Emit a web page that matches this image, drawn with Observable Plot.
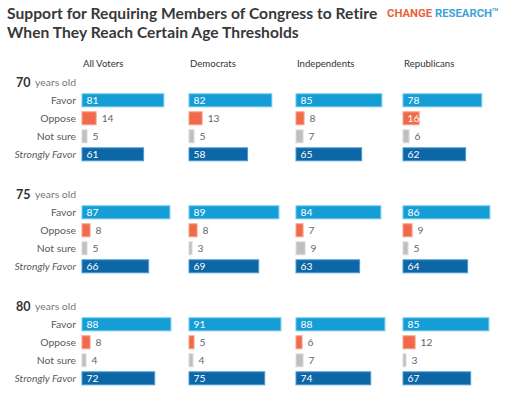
<!DOCTYPE html>
<html>
<head>
<meta charset="utf-8">
<script src="https://cdn.jsdelivr.net/npm/d3@7"></script>
<script src="https://cdn.jsdelivr.net/npm/@observablehq/plot@0.6"></script>
<style>
  body { margin: 0; background: #fff; width: 512px; height: 395px; overflow: hidden; font-family: Lato, "Open Sans", sans-serif; }
  #head { position: relative; height: 48px; }
  #title { position: absolute; left: 7px; top: 4px; font-size: 15.6px; font-weight: 700; color: #383838; line-height: 18.5px; letter-spacing: 0.05px; }
  #logo { position: absolute; left: 387px; top: 7px; font-family: Roboto, sans-serif; font-size: 11.3px; font-weight: 700; white-space: nowrap; }
  #logo .c { color: #e8623e; }
  #logo .r { color: #3da2d8; }
  #logo sup { font-size: 4px; color: #3da2d8; vertical-align: top; }
</style>
</head>
<body>
<div id="head">
  <div id="title">Support for Requiring Members of Congress to Retire<br>When They Reach Certain Age Thresholds</div>
  <div id="logo"><span class="c">CHANGE</span> <span class="r">RESEARCH</span><sup>TM</sup></div>
</div>
<div id="chart"></div>
<script>
const parties = ["All Voters", "Democrats", "Independents", "Republicans"];
const ages = ["70", "75", "80"];
const responses = ["Favor", "Oppose", "Not sure", "Strongly Favor"];

// values per age group, in party order
const favor = [[81, 82, 85, 78], [87, 89, 84, 86], [88, 91, 88, 85]];
const oppose = [[14, 13, 8, 16], [8, 8, 7, 9], [8, 5, 6, 12]];
const notSure = [[5, 5, 7, 6], [5, 3, 9, 5], [4, 4, 7, 3]];
const stronglyFavor = [[61, 58, 65, 62], [66, 69, 63, 64], [72, 75, 74, 67]];

const series = {"Favor": favor, "Oppose": oppose, "Not sure": notSure, "Strongly Favor": stronglyFavor};
const fills = {"Favor": "#159dd6", "Oppose": "#f0694a", "Not sure": "#bfbfbf", "Strongly Favor": "#0d67a6"};
const strokes = {"Favor": "#6ec8ef", "Oppose": "#f7a48e", "Not sure": "#dcdcdc", "Strongly Favor": "#4b9bd3"};

const data = [];
ages.forEach((age, ai) => {
  responses.forEach(resp => {
    parties.forEach((party, pi) => {
      data.push({age, party, resp, value: series[resp][ai][pi]});
    });
  });
});
const inside = d => d.resp === "Favor" || d.resp === "Strongly Favor" || d.value >= 15;

const rowLabels = [];
ages.forEach(age => responses.forEach(resp => rowLabels.push({age, resp})));

const chart = Plot.plot({
  width: 512,
  height: 347,
  marginLeft: 81.5,
  marginRight: 7,
  marginTop: 20.7,
  marginBottom: 4.5,
  style: {fontFamily: "Lato, 'Open Sans', sans-serif", background: "#fff"},
  x: {domain: [0, 100], axis: null},
  y: {domain: ["hdr", ...responses], paddingInner: 0.2, paddingOuter: 0.2, axis: null},
  fx: {domain: parties, paddingInner: 0.0605, paddingOuter: 0, axis: null},
  fy: {domain: ages, paddingInner: 0.127, paddingOuter: 0, axis: null},
  marks: [
    Plot.barX(data, {
      x: "value", y: "resp", fx: "party", fy: "age",
      fill: d => fills[d.resp], stroke: d => strokes[d.resp], strokeWidth: 1,
      insetTop: 0.5, insetBottom: 0.5
    }),
    Plot.text(data.filter(inside), {
      x: 0, y: "resp", fx: "party", fy: "age", text: d => String(d.value),
      textAnchor: "start", dx: 4, fill: "white", fontSize: 10.3
    }),
    Plot.text(data.filter(d => !inside(d)), {
      x: "value", y: "resp", fx: "party", fy: "age", text: d => String(d.value),
      textAnchor: "start", dx: 5, fill: "#666", fontSize: 10.3
    }),
    Plot.text(rowLabels.filter(d => d.resp !== "Strongly Favor"), {
      y: "resp", fy: "age", fx: () => parties[0], text: "resp",
      frameAnchor: "left", textAnchor: "end", dx: -6.5, fill: "#5a5a5a", fontSize: 10.4
    }),
    Plot.text(rowLabels.filter(d => d.resp === "Strongly Favor"), {
      y: "resp", fy: "age", fx: () => parties[0], text: "resp",
      frameAnchor: "left", textAnchor: "end", dx: -6.5, fill: "#5a5a5a", fontSize: 10.4, fontStyle: "italic"
    }),
    Plot.text(ages, {
      y: () => "hdr", fy: d => d, fx: () => parties[0], text: () => "years old",
      frameAnchor: "left", textAnchor: "end", dx: -6.5, fill: "#777", fontSize: 10.4
    }),
    Plot.text(ages, {
      y: () => "hdr", fy: d => d, fx: () => parties[0], text: d => d,
      frameAnchor: "left", textAnchor: "end", dx: -52, fill: "#333", fontSize: 12.5, fontWeight: "bold"
    }),
    Plot.text(parties, {
      fx: d => d, fy: () => ages[0], text: d => d,
      frameAnchor: "top-left", textAnchor: "start", lineAnchor: "bottom", dy: -3, dx: 0.5,
      fill: "#333", fontSize: 9.6
    })
  ]
});
document.getElementById("chart").appendChild(chart);
</script>
</body>
</html>
